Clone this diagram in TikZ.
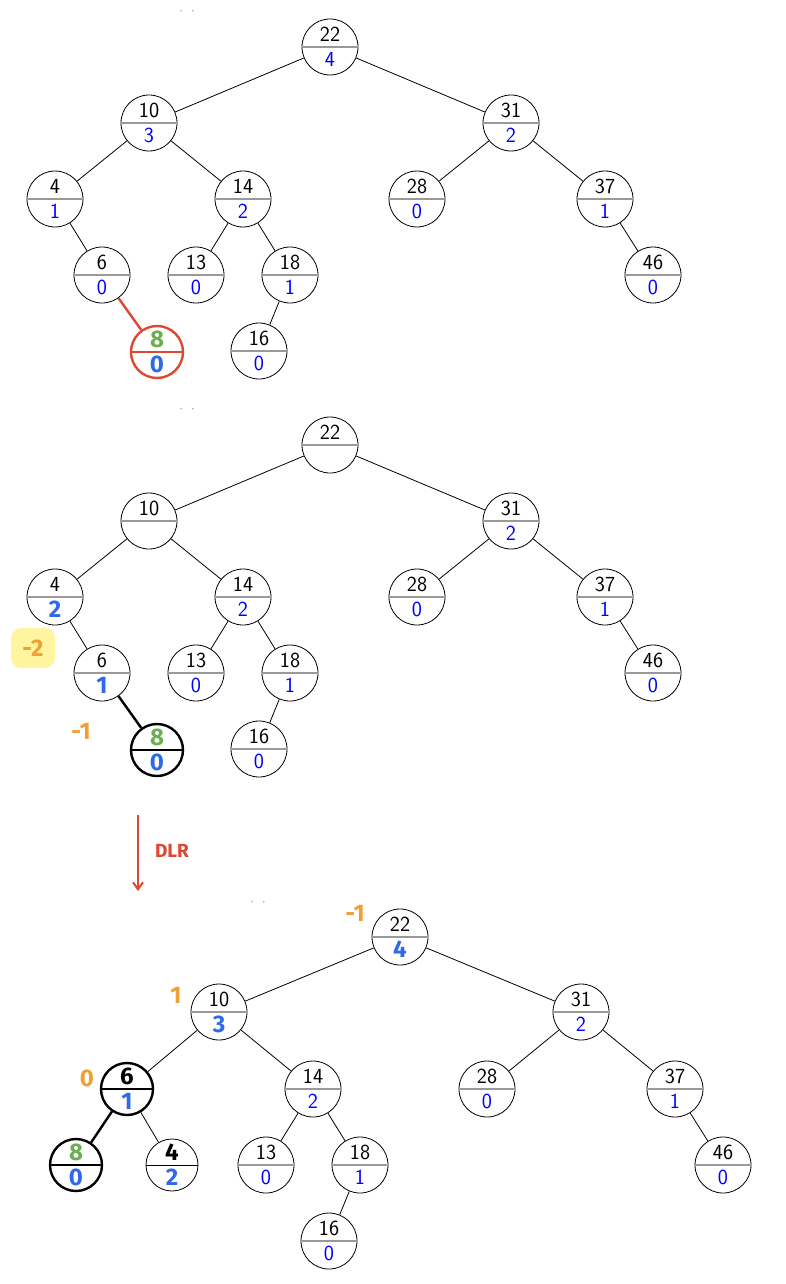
\documentclass[tikz,border=0pt]{standalone}
\usepackage{fontspec}
\newfontfamily\hand{Fira Sans}
\usetikzlibrary{arrows.meta}
\definecolor{nblue}{RGB}{0,0,255}
\definecolor{hblue}{RGB}{45,105,235}
\definecolor{hgreen}{RGB}{105,175,80}
\definecolor{horange}{RGB}{240,160,50}
\definecolor{hred}{RGB}{222,72,50}
\definecolor{hyellow}{RGB}{255,245,160}
\tikzset{
  tn/.style={circle,draw,line width=0.8pt,minimum size=56pt,inner sep=0pt},
  tnb/.style={tn,line width=2.4pt},
  div/.style={draw=gray!80,line width=1.2pt},
  divb/.style={draw=black,line width=2.4pt},
  toptxt/.style={font=\sffamily\fontsize{21.5}{23}\selectfont,inner sep=0pt},
  bottxt/.style={font=\sffamily\fontsize{21.5}{23}\selectfont,text=nblue,inner sep=0pt},
  htxt/.style={font=\hand\bfseries\fontsize{24}{26}\selectfont,inner sep=0pt},
  edge/.style={line width=0.8pt},
  edgeb/.style={line width=2.4pt},
  ticks/.style={font=\fontsize{7}{8}\selectfont,inner sep=0pt},
}
% #1 name, #2 position, #3 top, #4 bottom, #5 circle style, #6 divider style, #7 top style, #8 bottom style
\newcommand\bstnode[8]{%
  \node[#5] (#1) at (#2) {};
  \draw[#6] (#1.west) -- (#1.east);
  \node[#7] (#1t) at ([yshift=12.5pt]#1.center) {#3};
  \node[#8] (#1b) at ([yshift=-12.5pt]#1.center) {#4};
}
\newcommand\pn[4]{\bstnode{#1}{#2}{#3}{#4}{tn}{div}{toptxt}{bottxt}}
\begin{document}
\begin{tikzpicture}[x=1pt,y=-1pt]
\useasboundingbox (0,0) rectangle (785,1284);
% ---------- Tree 1 ----------
\node[ticks] (tk1) at (187,13) {\textasciigrave\quad\textasciiacute};
\pn{a22}{330,47}{22}{4}
\pn{a10}{149,123}{10}{3}
\pn{a31}{511,123}{31}{2}
\pn{a4}{55,199}{4}{1}
\pn{a14}{243,199}{14}{2}
\pn{a28}{417,199}{28}{0}
\pn{a37}{605,199}{37}{1}
\pn{a6}{102,275}{6}{0}
\pn{a13}{196,275}{13}{0}
\pn{a18}{290,275}{18}{1}
\pn{a46}{653,275}{46}{0}
\pn{a16}{259,351}{16}{0}
\bstnode{a8}{157,352}{8}{0}{tnb,draw=hred,minimum size=52pt}{divb,draw=hred}{htxt,text=hgreen}{htxt,text=hblue}
\draw[edge] (a22)--(a10); \draw[edge] (a22)--(a31);
\draw[edge] (a10)--(a4); \draw[edge] (a10)--(a14);
\draw[edge] (a31)--(a28); \draw[edge] (a31)--(a37);
\draw[edge] (a4)--(a6); \draw[edge] (a14)--(a13); \draw[edge] (a14)--(a18);
\draw[edge] (a37)--(a46); \draw[edge] (a18)--(a16);
\draw[edgeb,draw=hred] (a6)--(a8);
% ---------- Tree 2 ----------
\node[ticks] (tk2) at (187,411) {\textasciigrave\quad\textasciiacute};
\pn{b22}{330,445}{22}{}
\pn{b10}{149,521}{10}{}
\pn{b31}{511,521}{31}{2}
\bstnode{b4}{55,597}{4}{2}{tn}{div}{toptxt}{htxt,text=hblue}
\pn{b14}{243,597}{14}{2}
\pn{b28}{417,597}{28}{0}
\pn{b37}{605,597}{37}{1}
\bstnode{b6}{102,673}{6}{1}{tn}{div}{toptxt}{htxt,text=hblue}
\pn{b13}{196,673}{13}{0}
\pn{b18}{290,673}{18}{1}
\pn{b46}{653,673}{46}{0}
\pn{b16}{259,749}{16}{0}
\bstnode{b8}{157,750}{8}{0}{tnb,minimum size=52pt}{divb}{htxt,text=hgreen}{htxt,text=hblue}
\draw[edge] (b22)--(b10); \draw[edge] (b22)--(b31);
\draw[edge] (b10)--(b4); \draw[edge] (b10)--(b14);
\draw[edge] (b31)--(b28); \draw[edge] (b31)--(b37);
\draw[edge] (b4)--(b6); \draw[edge] (b14)--(b13); \draw[edge] (b14)--(b18);
\draw[edge] (b37)--(b46); \draw[edge] (b18)--(b16);
\draw[edgeb] (b6)--(b8);
\node[fill=hyellow,rounded corners=10pt,minimum width=44pt,minimum height=40pt,inner sep=0pt] (hl) at (33,648) {};
\node[htxt,text=horange] (m2) at (33,648) {-2};
\node[htxt,text=horange] (m1) at (81,731) {-1};
% ---------- Arrow ----------
\coordinate (arA) at (138,815);
\coordinate (arB) at (138,891);
\draw[draw=hred,line width=2pt,-{Straight Barb[length=7pt,width=10pt]}] (arA)--(arB);
\node[htxt,text=hred,font=\hand\bfseries\fontsize{19}{21}\selectfont] (dlr) at (172,851) {DLR};
% ---------- Tree 3 ----------
\node[ticks] (tk3) at (258,904) {\textasciigrave\quad\textasciiacute};
\bstnode{c22}{400,937}{22}{4}{tn}{div}{toptxt}{htxt,text=hblue}
\bstnode{c10}{219,1012}{10}{3}{tn}{div}{toptxt}{htxt,text=hblue}
\pn{c31}{581,1012}{31}{2}
\bstnode{c6}{127,1089}{6}{1}{tnb,minimum size=52pt}{divb}{htxt}{htxt,text=hblue}
\pn{c14}{313,1089}{14}{2}
\pn{c28}{487,1089}{28}{0}
\pn{c37}{675,1089}{37}{1}
\bstnode{c8}{76,1165}{8}{0}{tnb,minimum size=52pt}{divb}{htxt,text=hgreen}{htxt,text=hblue}
\bstnode{c4}{172,1165}{4}{2}{tn,minimum size=52pt}{draw=black,line width=0.8pt}{htxt}{htxt,text=hblue}
\pn{c13}{266,1165}{13}{0}
\pn{c18}{360,1165}{18}{1}
\pn{c46}{723,1165}{46}{0}
\pn{c16}{329,1241}{16}{0}
\draw[edge] (c22)--(c10); \draw[edge] (c22)--(c31);
\draw[edge] (c10)--(c6); \draw[edge] (c10)--(c14);
\draw[edge] (c31)--(c28); \draw[edge] (c31)--(c37);
\draw[edgeb] (c6)--(c8); \draw[edge] (c6)--(c4);
\draw[edge] (c14)--(c13); \draw[edge] (c14)--(c18);
\draw[edge] (c37)--(c46); \draw[edge] (c18)--(c16);
\node[htxt,text=horange] (n1) at (355,913) {-1};
\node[htxt,text=horange] (n2) at (176,995) {1};
\node[htxt,text=horange] (n3) at (87,1078) {0};
\end{tikzpicture}
\end{document}
